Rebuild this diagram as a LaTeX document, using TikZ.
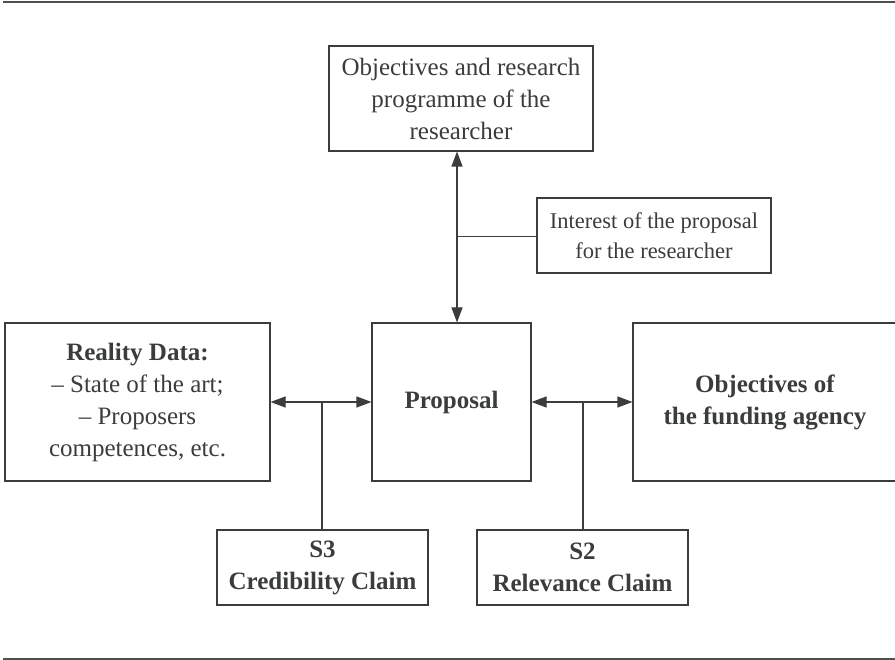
\documentclass[tikz,border=0pt]{standalone}
\usepackage{fontspec}
\setmainfont{Liberation Serif}
\usetikzlibrary{arrows.meta}
\definecolor{ink}{HTML}{3A3C3D}
\begin{document}
\begin{tikzpicture}[x=1pt,y=-1pt,
  box/.style={draw=ink,line width=1.1pt,text=ink,align=center,inner sep=0pt,
    font=\fontsize{25}{32}\selectfont},
  link/.style={draw=ink,line width=1.1pt},
  dbl/.style={link,{Triangle[length=15pt,width=11pt]}-{Triangle[length=15pt,width=11pt]}},
  rule/.style={draw=ink!90,line width=1.6pt}]
\useasboundingbox (0,0) rectangle (895,660);
\coordinate (rl1) at (3,2);   \coordinate (rr1) at (897,2);
\coordinate (rl2) at (3,659); \coordinate (rr2) at (897,659);
\draw[rule] (rl1) -- (rr1);
\draw[rule] (rl2) -- (rr2);

\node[box,minimum width=264pt,minimum height=105pt] (top) at (461,98.5)
  {Objectives and research\\programme of the\\researcher};
\node[box,minimum width=234pt,minimum height=75pt,font=\fontsize{22.5}{30}\selectfont] (int) at (654,235.5)
  {Interest of the proposal\\for the researcher};
\node[box,minimum width=265pt,minimum height=158pt] (real) at (137.5,402)
  {\textbf{Reality Data:}\\– State of the art;\\– Proposers\\competences, etc.};
\node[box,minimum width=159pt,minimum height=158pt] (prop) at (451.5,402)
  {\textbf{Proposal}};
\node[box,minimum width=264pt,minimum height=158pt] (fund) at (765,402)
  {\textbf{Objectives of}\\\textbf{the funding agency}};
\node[box,minimum width=211pt,minimum height=75pt] (s3) at (322.5,567.5)
  {\textbf{S3}\\\textbf{Credibility Claim}};
\node[box,minimum width=211pt,minimum height=75pt] (s2) at (582.5,567.5)
  {\textbf{S2}\\\textbf{Relevance Claim}};

\coordinate (vx) at (457,0);
\coordinate (ja) at (457,236.5);
\coordinate (jl) at (322,402);
\coordinate (jr) at (583,402);

\draw[dbl] (top.south -| vx) -- (prop.north -| vx);
\draw[link] (ja) -- (int.west |- ja);
\draw[dbl] (real.east) -- (prop.west);
\draw[dbl] (prop.east) -- (fund.west);
\draw[link] (jl) -- (s3.north -| jl);
\draw[link] (jr) -- (s2.north -| jr);
\end{tikzpicture}
\end{document}
